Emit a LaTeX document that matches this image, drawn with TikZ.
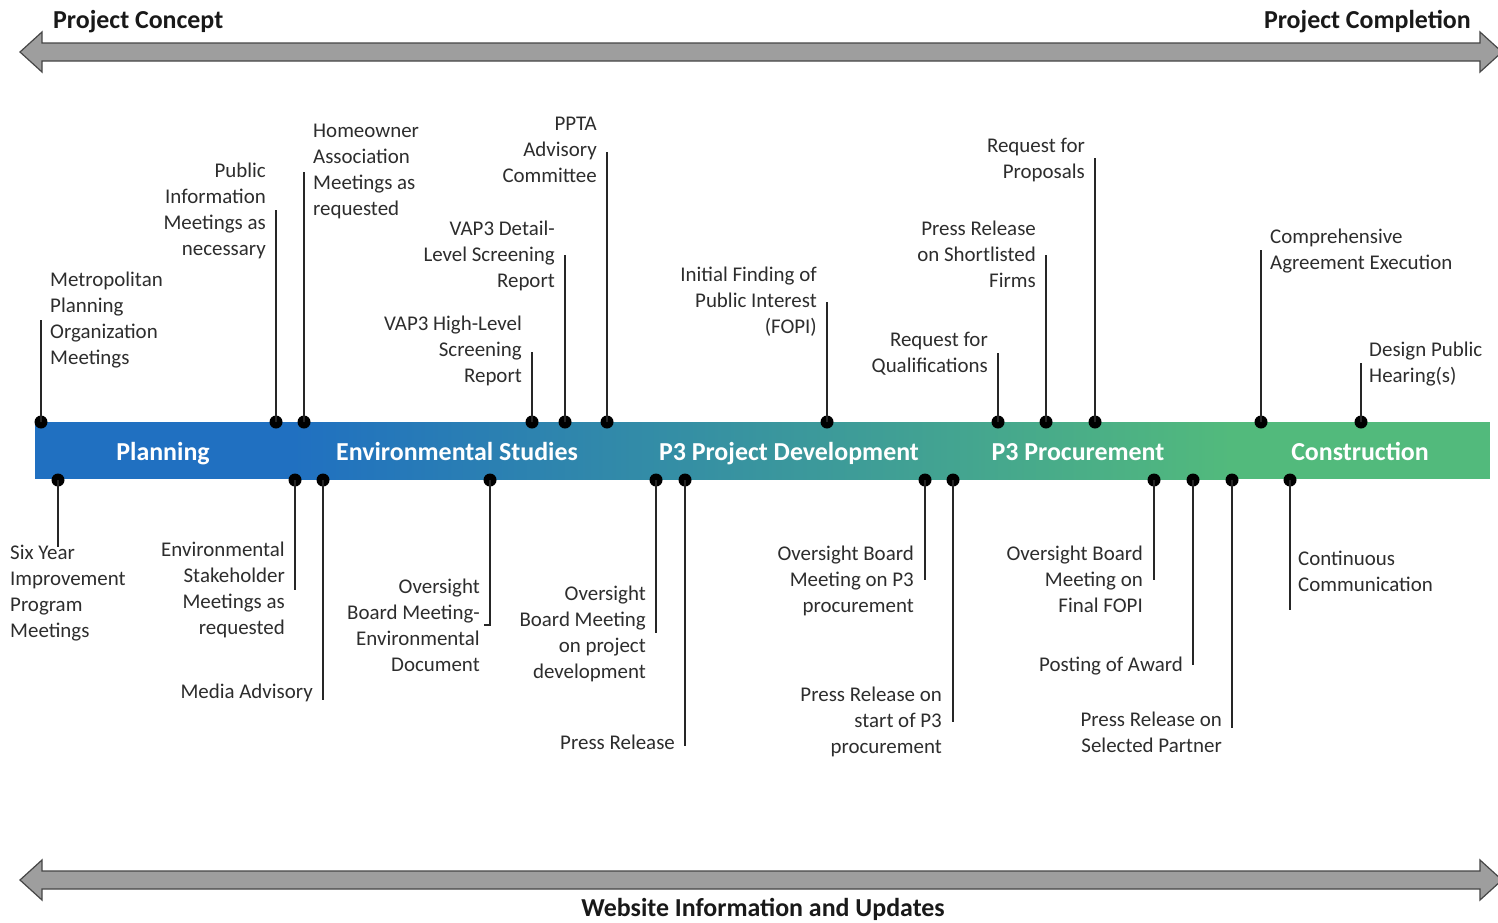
\documentclass[tikz,border=0pt]{standalone}
\usepackage{fontspec}
\setmainfont{Carlito}
\usepackage{tikz}
\usetikzlibrary{calc,positioning,shapes}

\definecolor{barblue}{RGB}{32,112,193}
\definecolor{bargreen}{RGB}{82,186,124}
\definecolor{arrowgray}{RGB}{158,158,158}
\definecolor{arrowedge}{RGB}{70,70,70}
\definecolor{labelgray}{RGB}{45,45,45}

\tikzset{
  dot/.style={circle,fill=black,inner sep=0pt,minimum size=13bp},
  stem/.style={draw=black!85,line width=2.2bp},
  lblleft/.style={anchor=north west,align=left,inner sep=0pt,text=labelgray,font=\fontsize{21}{26}\selectfont},
  lblright/.style={anchor=north east,align=right,inner sep=0pt,text=labelgray,font=\fontsize{21}{26}\selectfont},
  phase/.style={anchor=base,text=white,inner sep=0pt,font=\fontsize{26}{30}\selectfont\bfseries},
  heading/.style={inner sep=0pt,text=black!90,font=\fontsize{26}{30}\selectfont\bfseries},
  bigarrow/.style={fill=arrowgray,draw=arrowedge,line width=1.2bp,line join=miter},
}

\begin{document}
\begin{tikzpicture}[x=1bp,y=-1bp]
\useasboundingbox (0,0) rectangle (1498,922);
\fill[white] (0,0) rectangle (1498,922);
%%
\draw[bigarrow] (20,52) -- (42,32) -- (42,43) -- (1480,43) -- (1480,32) -- (1502,52)
  -- (1480,72) -- (1480,61) -- (42,61) -- (42,72) -- cycle;
\draw[bigarrow] (20,880) -- (42,860) -- (42,871) -- (1480,871) -- (1480,860) -- (1502,880)
  -- (1480,900) -- (1480,889) -- (42,889) -- (42,900) -- cycle;
\node (concept) at (53,22) [heading,anchor=west] {Project Concept};
\node (completion) at (1471,22) [heading,anchor=east] {Project Completion};
\node (website) at (763,909) [heading] {Website Information and Updates};
%%
\fill[barblue] (35,422) rectangle (292,479);
\shade[left color=barblue,right color=bargreen] (291,422) rectangle (1233,479);
\fill[bargreen] (1232,422) rectangle (1490,479);
\node (planning) at (163,460) [phase] {Planning};
\node (envstudies) at (457,460) [phase] {Environmental Studies};
\node (p3dev) at (789,460) [phase] {P3 Project Development};
\node (p3proc) at (1078,460) [phase] {P3 Procurement};
\node (construct) at (1360,460) [phase] {Construction};
%% above the bar
\node (mpo) at (41,422) [dot] {};
\coordinate (mpo-e) at (41,320);
\node (mpo-t) at (50,272) [lblleft] {Metropolitan\\Planning\\Organization\\Meetings};
\node (pim) at (276,422) [dot] {};
\coordinate (pim-e) at (276,210);
\node (pim-t) at (266,163) [lblright] {Public\\Information\\Meetings as\\necessary};
\node (hoa) at (304,422) [dot] {};
\coordinate (hoa-e) at (304,172);
\node (hoa-t) at (313,124) [lblleft] {Homeowner\\Association\\Meetings as\\requested};
\node (vhl) at (532,422) [dot] {};
\coordinate (vhl-e) at (532,352);
\node (vhl-t) at (522,316) [lblright] {VAP3 High-Level\\Screening\\Report};
\node (vdl) at (565,422) [dot] {};
\coordinate (vdl-e) at (565,255);
\node (vdl-t) at (555,221) [lblright] {VAP3 Detail-\\Level Screening\\Report};
\node (ppta) at (607,422) [dot] {};
\coordinate (ppta-e) at (607,152);
\node (ppta-t) at (597,117) [lblright] {PPTA\\Advisory\\Committee};
\node (fopi) at (827,422) [dot] {};
\coordinate (fopi-e) at (827,302);
\node (fopi-t) at (817,267) [lblright] {Initial Finding of\\Public Interest\\(FOPI)};
\node (rfq) at (998,422) [dot] {};
\coordinate (rfq-e) at (998,353);
\node (rfq-t) at (988,332) [lblright] {Request for\\Qualifications};
\node (shortlist) at (1046,422) [dot] {};
\coordinate (shortlist-e) at (1046,255);
\node (shortlist-t) at (1036,221) [lblright] {Press Release\\on Shortlisted\\Firms};
\node (rfp) at (1095,422) [dot] {};
\coordinate (rfp-e) at (1095,158);
\node (rfp-t) at (1085,138) [lblright] {Request for\\Proposals};
\node (cae) at (1261,422) [dot] {};
\coordinate (cae-e) at (1261,250);
\node (cae-t) at (1270,229) [lblleft] {Comprehensive\\Agreement Execution};
\node (dph) at (1361,422) [dot] {};
\coordinate (dph-e) at (1361,363);
\node (dph-t) at (1369,342) [lblleft] {Design Public\\Hearing(s)};
%% below the bar
\node (syip) at (58,480) [dot] {};
\coordinate (syip-e) at (60,547);
\node (syip-t) at (10,545) [lblleft] {Six Year\\Improvement\\Program\\Meetings};
\node (esm) at (295,480) [dot] {};
\coordinate (esm-e) at (295,590);
\node (esm-t) at (285,542) [lblright] {Environmental\\Stakeholder\\Meetings as\\requested};
\node (media) at (323,480) [dot] {};
\coordinate (media-e) at (323,700);
\node (media-t) at (313,684) [lblright] {Media Advisory};
\node (obed) at (490,480) [dot] {};
\coordinate (obed-e) at (490,625);
\coordinate (obed-h) at (484,625);
\node (obed-t) at (480,579) [lblright] {Oversight\\Board Meeting-\\Environmental\\Document};
\node (obpd) at (656,480) [dot] {};
\coordinate (obpd-e) at (656,633);
\node (obpd-t) at (646,586) [lblright] {Oversight\\Board Meeting\\on project\\development};
\node (press) at (685,480) [dot] {};
\coordinate (press-e) at (685,746);
\node (press-t) at (675,735) [lblright] {Press Release};
\node (obproc) at (925,480) [dot] {};
\coordinate (obproc-e) at (925,580);
\node (obproc-t) at (914,546) [lblright] {Oversight Board\\Meeting on P3\\procurement};
\node (prstart) at (953,480) [dot] {};
\coordinate (prstart-e) at (953,722);
\node (prstart-t) at (942,687) [lblright] {Press Release on\\start of P3\\procurement};
\node (obfopi) at (1154,480) [dot] {};
\coordinate (obfopi-e) at (1154,580);
\node (obfopi-t) at (1143,546) [lblright] {Oversight Board\\Meeting on\\Final FOPI};
\node (award) at (1193,480) [dot] {};
\coordinate (award-e) at (1193,665);
\node (award-t) at (1183,657) [lblright] {Posting of Award};
\node (prsel) at (1232,480) [dot] {};
\coordinate (prsel-e) at (1232,728);
\node (prsel-t) at (1222,712) [lblright] {Press Release on\\Selected Partner};
\node (comms) at (1290,480) [dot] {};
\coordinate (comms-e) at (1290,610);
\node (comms-t) at (1298,551) [lblleft] {Continuous\\Communication};
%% stems
\foreach \m in {mpo,pim,hoa,vhl,vdl,ppta,fopi,rfq,shortlist,rfp,cae,dph,
                esm,media,obpd,press,obproc,prstart,obfopi,award,prsel,comms}
  \draw[stem] (\m.center) -- (\m-e);
\draw[stem] (syip.center) -- (syip.center |- syip-e);
\draw[stem] (obed.center) -- (obed-e) -- (obed-h);
%
\end{tikzpicture}
\end{document}
